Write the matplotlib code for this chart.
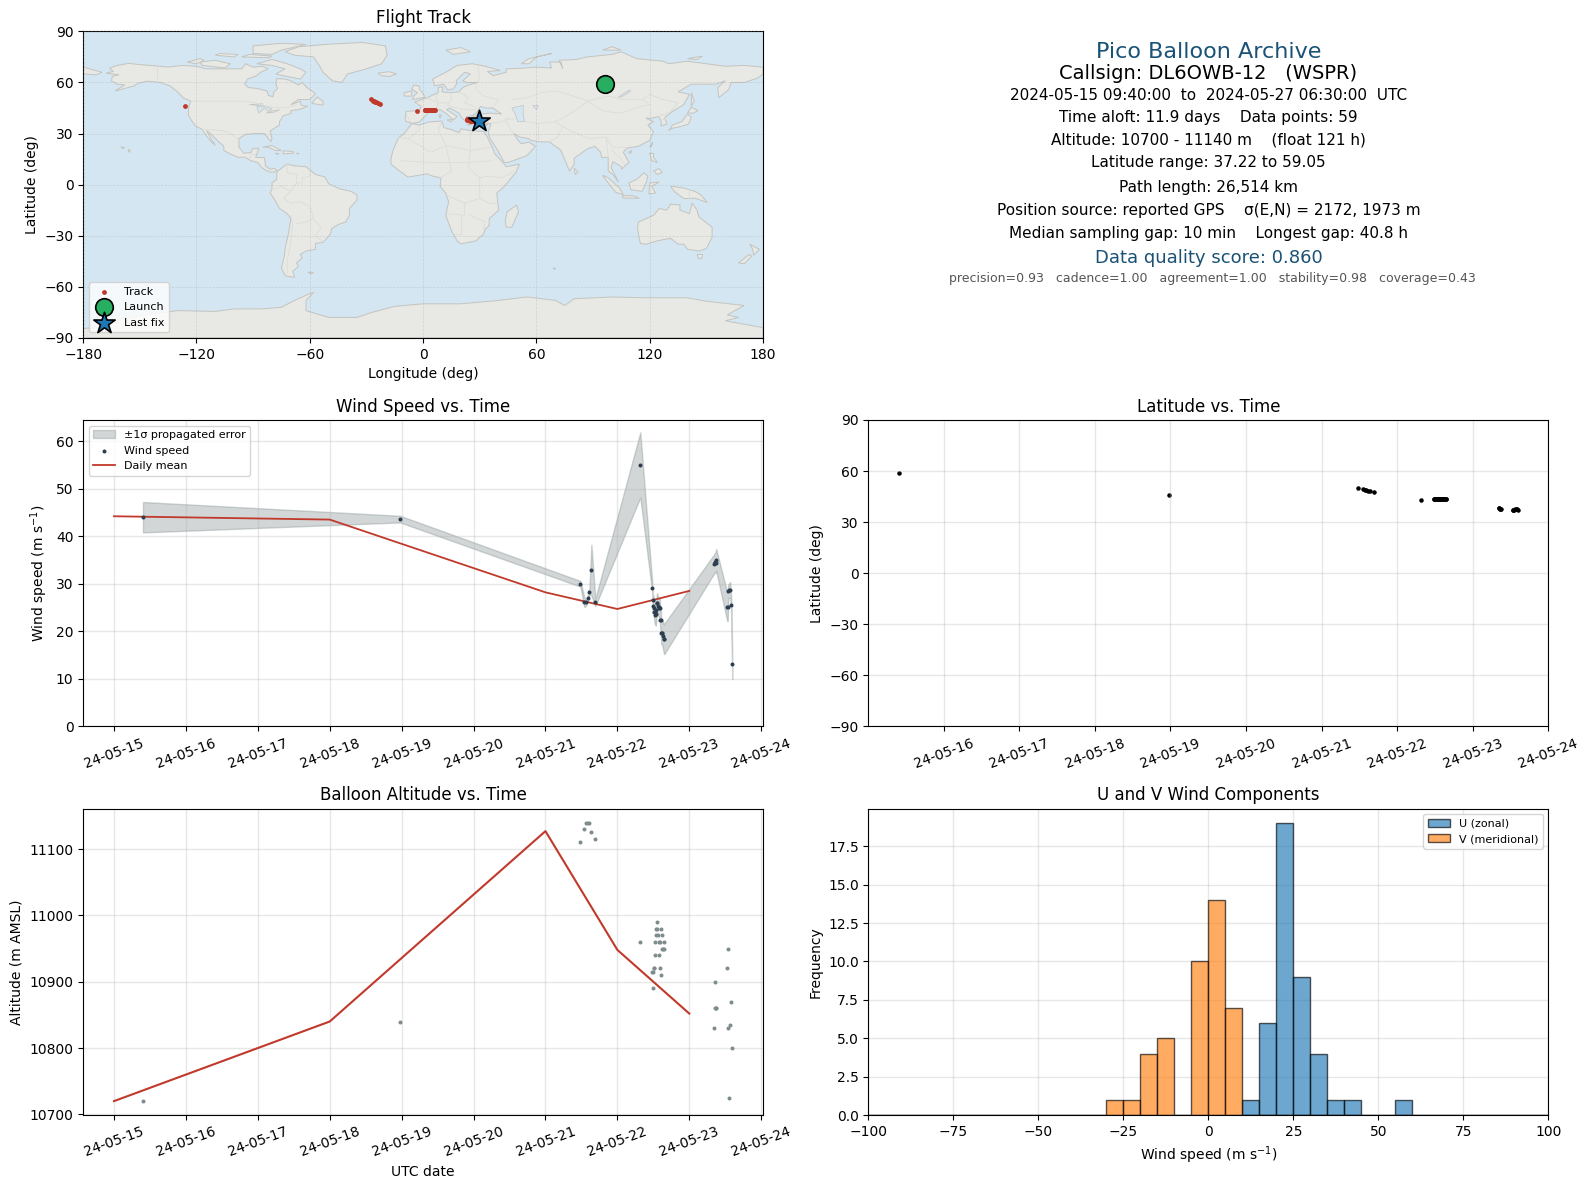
from datetime import datetime
import numpy as np
import matplotlib
matplotlib.use("Agg")
import matplotlib.pyplot as plt
import matplotlib.dates as mdates

# flight samples, time is day of May 2024
day = [15.403, 18.979, 21.486, 21.542, 21.569, 21.590, 21.611, 21.639, 21.694, 22.319,
       22.486, 22.493, 22.500, 22.507, 22.514, 22.521, 22.528, 22.535, 22.542, 22.549,
       22.556, 22.563, 22.576, 22.583, 22.590, 22.597, 22.604, 22.611, 22.618, 22.625,
       22.639, 22.646, 22.653,
       23.347, 23.353, 23.360, 23.367, 23.375, 23.528, 23.535, 23.542, 23.556, 23.569, 23.583, 23.597]
wind = [44.0, 43.6, 30.0, 26.1, 26.1, 27.0, 28.3, 32.9, 26.1, 55.0,
        29.1, 25.3, 26.6, 24.9, 24.1, 24.1, 23.5, 23.7, 24.4, 25.9,
        26.0, 25.3, 25.1, 24.9, 25.0, 22.4, 22.3, 19.75, 19.7, 19.7,
        19.0, 18.4, 18.4,
        34.2, 34.4, 34.5, 34.4, 35.0, 25.15, 25.2, 28.4, 28.6, 28.65, 25.6, 13.15]
wind_err = [3.2, 0.7, 0.6, 1.0, 0.6, 0.6, 0.6, 5.3, 0.8, 6.85,
            1.0, 1.5, 1.0, 1.5, 2.0, 2.5, 2.2, 2.5, 2.0, 2.0,
            2.0, 2.0, 2.0, 2.0, 2.0, 2.0, 2.2, 2.5, 2.5, 2.6,
            3.0, 3.0, 3.2,
            2.0, 2.0, 2.0, 2.2, 2.3, 3.0, 3.0, 1.5, 1.5, 1.7, 1.5, 3.2]
altitude = [10720, 10840, 11110, 11130, 11140, 11140, 11140, 11125, 11115, 10960,
            10915, 10915, 10890, 10920, 10920, 10940, 10960, 10970, 10980, 10980,
            10990, 10970, 10960, 10940, 10960, 10920, 10910, 10980, 10950, 10970,
            10950, 10960, 10950,
            10830, 10860, 10900, 10860, 10860, 10920, 10950, 10830, 10725, 10835, 10870, 10800]
lat = [58.9, 46.0, 50.0, 49.3, 49.0, 48.7, 48.5, 48.2, 47.5, 43.0,
       43.6, 43.6, 43.6, 43.6, 43.6, 43.6, 43.6, 43.6, 43.6, 43.6,
       43.6, 43.6, 43.6, 43.6, 43.6, 43.6, 43.6, 43.6, 43.6, 43.6,
       43.6, 43.6, 43.6,
       38.4, 38.2, 38.0, 37.8, 37.6, 37.2, 37.2, 37.3, 37.5, 37.6, 37.8, 37.2]
lon = [96.3, -126.2, -27.5, -26.7, -26.2, -25.6, -25.0, -24.0, -23.0, -3.2,
       0.8, 1.1, 1.4, 1.7, 2.0, 2.3, 2.6, 2.9, 3.2, 3.5,
       3.8, 4.1, 4.4, 4.7, 5.0, 5.2, 5.4, 5.6, 5.7, 5.8,
       5.9, 6.0, 6.1,
       23.0, 23.4, 23.8, 24.2, 24.6, 25.5, 26.0, 26.5, 27.0, 27.5, 28.0, 29.8]

# daily means
mean_day = [15, 18, 21, 22, 23]
mean_wind = [44.2, 43.5, 28.2, 24.7, 28.5]
mean_alt = [10720, 10840, 11127, 10948, 10852]

# histogram counts, 5 m/s bins
u_bins = [10, 15, 20, 25, 30, 35, 40, 55]
u_counts = [1, 6, 19, 9, 4, 1, 1, 1]
v_bins = [-30, -25, -20, -15, -5, 0, 5]
v_counts = [1, 1, 4, 5, 10, 14, 7]

summary = [
    ("Pico Balloon Archive", 16, "#1a5276"),
    ("Callsign: DL6OWB-12   (WSPR)", 14, "black"),
    ("2024-05-15 09:40:00  to  2024-05-27 06:30:00  UTC", 11, "black"),
    ("Time aloft: 11.9 days    Data points: 59", 11, "black"),
    ("Altitude: 10700 - 11140 m    (float 121 h)", 11, "black"),
    ("Latitude range: 37.22 to 59.05", 11, "black"),
    ("Path length: 26,514 km", 11, "black"),
    ("Position source: reported GPS    σ(E,N) = 2172, 1973 m", 11, "black"),
    ("Median sampling gap: 10 min    Longest gap: 40.8 h", 11, "black"),
    ("Data quality score: 0.860", 13, "#1a5276"),
    ("precision=0.93   cadence=1.00   agreement=1.00   stability=0.98   coverage=0.43", 9, "#555555"),
]
summary_y = [0.932, 0.862, 0.792, 0.720, 0.644, 0.571, 0.492, 0.416, 0.340, 0.261, 0.195]
summary_x = [0.5, 0.5, 0.5, 0.5, 0.5, 0.5, 0.5, 0.5, 0.5, 0.5, 0.506]

# rough land outlines, lon/lat
land = [
    # north america
    [(-168,65.5),(-164,66.5),(-166,68.5),(-162,70),(-156,71.2),(-150,70.5),(-141,69.7),(-135,69),(-128,70),(-120,69.5),
     (-115,68),(-108,68),(-100,68),(-96,68),(-94,71),(-90,69),(-85,69.5),(-82,68),(-86,66),(-88,64),(-93,62),(-94.5,59),
     (-92.5,57),(-88,56.5),(-82.5,55),(-82,52.5),(-79.5,51.5),(-79,54.5),(-77,56.5),(-78,59),(-77.5,62.3),(-73,62),(-70,61),
     (-66,58.5),(-64,60),(-61.5,57),(-57,53.5),(-60,50),(-66,50),(-70,47),(-65,49),(-64.5,46.5),(-61,46),(-66,44),(-70,43.5),
     (-70,41.7),(-74,40.5),(-76,37),(-76,35),(-81,31.5),(-80,27),(-80.5,25.2),(-82.5,28),(-84,30),(-89,30),(-94,29.5),
     (-97.5,27),(-97.5,22),(-95,18.5),(-91,18.8),(-90.5,21),(-87,21.4),(-88,18),(-88.7,16),(-84,15.8),(-83.5,11),(-81,9),
     (-79,9.5),(-77.3,8.5),(-78.5,7.5),(-80.5,7.3),(-83,8.3),(-85.5,10),(-87.5,13),(-91,14),(-94.5,16.2),(-98,16),(-102,18),
     (-105.5,20),(-105.5,22.5),(-109,26),(-112.5,30),(-114.7,31.7),(-112,26.5),(-110,23),(-112,25),(-115,29),(-117,32.5),
     (-120.5,34.5),(-122.5,37.5),(-124.3,41),(-124,46),(-123,49),(-127,51),(-130,54.5),(-134,58),(-139,60),(-146,60.8),
     (-151,59.5),(-153,58),(-158,56.5),(-163,55),(-158,58.5),(-162,59),(-165,61),(-164.5,63.5),(-161,64.5)],
    [(-73,78),(-66,81),(-50,82.5),(-32,83.5),(-20,81.5),(-19,76),(-22,71),(-30,68),(-40,65),(-43,60),(-48,61),(-53,66),(-55,70),(-58,75),(-68,76)],
    [(-62,66),(-65,62),(-72,63.5),(-78,65),(-73,68),(-80,70),(-88,71),(-80,73.5),(-72,71),(-65,68)],
    [(-117,70),(-105,68.5),(-102,71),(-110,73),(-118,72)],
    [(-90,77),(-80,76.5),(-75,79),(-62,82.3),(-75,83),(-90,81.5)],
    [(-125,72),(-118,74),(-116,73),(-120,71)],
    [(-96,75),(-82,74.5),(-80,75.5),(-92,76.5)],
    [(-110,76),(-100,75),(-98,76.5),(-108,77)],
    [(-59,47.7),(-53,46.7),(-53,49),(-56,51.5)],
    [(-85,22),(-80,23),(-75,20),(-78,20),(-82,22)],
    [(-74,19.8),(-69,19.5),(-68.5,18.5),(-74,18)],
    [(-78.3,18.4),(-76.3,18.2),(-77,17.8)],
    [(-67,18.4),(-65.7,18.3),(-66,18)],
    [(-156,20.8),(-155,19.8),(-155.6,19),(-156,19.7)],
    [(-160,22.2),(-158,21.6),(-159,21.2)],
    # south america
    [(-77,8),(-72,12),(-68,11),(-62,10.5),(-57,6),(-52,4.5),(-50,0.5),(-44,-2.5),(-38,-4),(-35,-6),(-35,-9),(-39,-14),
     (-39,-18),(-41,-22),(-45,-23.5),(-48.5,-26),(-49,-29),(-53,-34),(-57,-34.5),(-57,-38),(-62,-39),(-65,-41),(-64,-43),
     (-67,-46),(-66,-48),(-69,-51),(-68,-54.5),(-73,-53.5),(-75,-49),(-73.5,-42),(-73,-37),(-71.5,-30),(-70,-20),(-72,-17),
     (-76,-14),(-79,-8),(-81,-5),(-80,-2.5),(-80,1),(-77.5,3),(-77.5,6.5)],
    [(-61,-51.5),(-58,-51.5),(-59,-52.3)],
    # africa
    [(-6,35.8),(-2,35),(3,36.8),(10,37.3),(11,33.5),(15,32.3),(19,30.5),(20,32.8),(25,31.7),(32,31.2),(34,28),(37,21),(38,18),
     (43,12),(44,10.5),(51,12),(49,7),(43,-1),(39,-5),(40,-15),(35,-20),(35,-24),(32.7,-26.5),(32,-29),(28,-33),(20,-34.8),
     (18,-33),(15,-27),(12,-18),(13.5,-10),(12,-5),(9,-1),(9.5,4),(5,5),(2,6.3),(-4,5.2),(-8,4.4),(-13,8.5),(-17,12),(-17,15),
     (-16,20),(-13,27.5),(-10,30)],
    [(49.5,-12),(50.5,-16),(47,-25),(44,-25),(43.5,-21),(44.5,-16)],
    # eurasia
    [(-9,37),(-9.5,39),(-9,43),(-2,43.5),(-1,46),(-4.5,48.5),(2,51),(4,52),(8,54),(8,57),(10.5,57.5),(10,54.5),(14,54),(19,54.5),
     (21,57),(24,58.5),(29,60),(23,60),(21,61),(25,65),(22,66),(17.5,61),(18,59.5),(16,56.2),(13,55.5),(11,59),(6,58),(5,62),
     (12,66),(18,70),(26,71),(33,69.5),(41,67),(34,66.5),(37,64),(44,66),(44,68),(54,68.5),(60,69),(68,68.5),(67,72),(73,72),
     (74,68),(72,73),(81,73.5),(87,75),(100,76.5),(105,78),(113,74),(127,72.5),(130,71),(140,72.5),(150,71),(160,69.5),(170,70),
     (180,69),(180,65),(177,62.5),(170,60),(163,60),(162,56),(156.5,51),(156,57),(160,61),(155,59),(142,59),(135,54.5),(141,53),
     (138,47),(132,43),(128,39.5),(129,35.5),(126,34.5),(126,37.5),(124.5,40),(121,39),(118,39),(122,37),(119,35),(122,31),
     (120,26),(114,22.5),(108,21.5),(106,19),(109,13),(105,9),(105,10.5),(100.5,13.5),(99.5,10),(103.5,1.5),(100.5,6),(98,8),
     (98,16),(94.5,16),(94,19),(91,22.5),(87,21),(80,15.5),(80,12),(77.5,8),(73,20),(72,21),(67,25),(61,25.2),(57,26),(56,27),
     (51,28),(48,30),(50,26.5),(52,24),(56,25),(59.5,22.5),(55,17),(45,13),(43,13),(39,21),(35,28),(34.5,31),(36,36),(32,36),
     (27,37),(26,39.5),(29,41),(35,42),(41.5,41.5),(37,45),(33,45),(30.5,46),(28,42),(26,40.5),(23,40),(23,36.5),(20,40),(19,42),
     (14,45),(12.5,44),(18,40),(16,38),(12,42),(9,44),(3.5,43.2),(0,39),(-2,36.8),(-5.5,36)],
    [(-180,69),(-175,67.5),(-170,66),(-173,64.5),(-180,65)],
    [(-5.5,50),(1,51.3),(0,53.5),(-2,56),(-2,58),(-5,58.5),(-6,56),(-3,54),(-5,52)],
    [(-10,52),(-6,52),(-6,55),(-10,54)],
    [(-24,65.5),(-18,66.3),(-14,65),(-18,63.5),(-22,64)],
    [(12,79),(20,80.5),(25,78),(16,76.5)],
    [(52,71),(56,74),(68,77),(60,75),(56,71)],
    [(95,79),(105,79),(100,81)],
    [(140,74),(148,75.5),(145,73.5)],
    [(130,31.5),(132,35),(137,37),(140,41.5),(142,39.5),(140.5,35.5),(136,34),(131.5,33)],
    [(140,42),(142,45.5),(145.5,43.5),(143,42)],
    [(142,46),(142,54),(143.5,49)],
    [(120,22),(121.5,25),(121,22.5)],
    [(108.7,19),(110.5,20),(110,18.3)],
    [(120,18.5),(122,18.3),(122,16),(124,13),(121,14)],
    [(122,8),(125,9.5),(126.5,7),(124,6)],
    [(117,7),(119,5),(118,1),(116,-4),(110,-3),(109,1),(113,3)],
    [(95,5.5),(98,4),(104,-2),(106,-6),(102,-4.5),(98,1)],
    [(105.5,-6.5),(111,-6.5),(114.5,-8),(106,-7.8)],
    [(119.5,-5.5),(120,1),(125,1.5),(121,-1),(123,-5)],
    [(131,-1),(138,-2),(144,-4),(147,-6),(150.5,-10.5),(144,-8),(138,-8.2),(133,-4)],
    [(80,9.7),(82,7.5),(80.5,6)],
    # australia, new zealand
    [(114,-22),(113.5,-26),(115,-34.5),(118,-35),(124,-33),(131,-31.5),(135,-35),(138,-35),(140,-38),(146,-39),(150,-37.5),
     (153,-31),(153,-25),(146,-19),(145,-15),(142.5,-10.8),(141,-17),(136,-15),(136,-12),(131,-11.5),(129,-15),(125,-14),(122,-18)],
    [(145,-41),(148,-41),(147.5,-43.5),(146,-43.5)],
    [(173,-35),(178,-38),(175,-41.5),(174.5,-38)],
    [(172.5,-41),(174,-42),(170,-46.5),(167,-46)],
    [(68.8,-49),(70.3,-49.2),(69.5,-49.8)],
    [(9,39),(9.7,41),(8.3,40.8)],
    [(12.5,38),(15.5,38.2),(15,36.8)],
    [(23.5,35.5),(26,35.2),(24,35)],
    [(32.5,35),(34.5,35.6),(33.5,34.7)],
    # antarctica
    [(-180,-84.5),(-172,-84),(-160,-78.5),(-150,-77),(-130,-74),(-110,-74.5),(-100,-73),(-85,-73),(-75,-72),(-68,-68),(-60,-64),
     (-58,-63.3),(-62,-68),(-62,-74),(-50,-78),(-35,-78),(-27,-75),(-15,-71.5),(0,-70),(20,-70),(40,-68),(55,-66),(70,-68),(75,-71),
     (80,-67),(100,-66),(120,-66.5),(140,-66.5),(150,-68.5),(170,-71),(161,-76.5),(167,-78),(160,-80),(180,-84),(180,-90),(-180,-90)],
]
lakes = [
    [(47,45),(53,46.5),(53,40),(54,37),(50,37),(49,41)],
    [(58,46.5),(61,46.5),(60,44)],
    [(-92,47),(-85,47.5),(-84.5,46),(-88,46.5)],
    [(-88,46),(-84,46),(-80,44.5),(-82,43),(-84,45),(-87,42)],
    [(-83,42),(-79,43.5),(-76,44),(-79,42.5)],
    [(103.5,51.5),(109,55.5),(110,55),(105,51.5)],
]
borders = [
    [(-123,49),(-95,49),(-88,48),(-83,46),(-75,45),(-71,45.5),(-67,47)],
    [(-141,69.7),(-141,60)],
    [(-117,32.5),(-106,31.7),(-101,29.5),(-97.5,26)],
    [(-92,14.5),(-91,17.5),(-89,17.8)],
    [(-72,12),(-72,7),(-67,6),(-67,1),(-70,-4),(-74,-8),(-70,-11),(-65,-10),(-60,-13),(-58,-20),(-54,-25),(-57,-30),(-53,-33.5)],
    [(-60,8),(-60,5),(-64,4),(-64,1),(-67,1)],
    [(-70,-18),(-69,-23),(-70,-33),(-72,-45),(-72,-52)],
    [(-58,-20),(-62,-22),(-67,-23)],
    [(-80,-3),(-75,-1),(-70,-4)],
    [(-13,27.5),(-8,27),(-2,32),(-2,35)],
    [(-8,27),(4,19),(12,23),(25,20),(36,22)],
    [(10,37),(8,32),(12,23),(14,13),(15,8),(9,4)],
    [(25,31.5),(25,20),(24,10),(30,4),(35,5),(42,4),(48,8)],
    [(36,14),(24,13),(14,13),(4,13),(-12,14)],
    [(30,4),(30,-8),(22,-11),(12,-6)],
    [(22,-11),(22,-18),(12,-17)],
    [(20,-18),(20,-29),(17,-29)],
    [(30,-8),(35,-11),(40,-11)],
    [(25,-18),(33,-22),(32,-26)],
    [(-2,43.5),(3,42.5)],[(-9,42),(-7,37)],
    [(2,51),(6,49),(8,48),(7,44)],
    [(8,54),(7,51),(8,48),(14,48),(15,51),(14,54)],
    [(14,48),(13,46.5),(18,45),(22,44),(28,44)],
    [(19,54.5),(24,51),(22,48),(28,45.5)],
    [(28,60),(28,56),(32,52),(40,50),(38,47)],
    [(29,69),(30,62),(28,60)],
    [(36,36),(42,37),(45,39),(48,38)],
    [(35,29),(46,29),(48,30)],
    [(44,37),(46,33),(48,30)],
    [(45,39),(44,37)],
    [(61,36),(54,37)],[(61,36),(61,25)],
    [(61,36),(70,37),(74,34),(71,28),(67,25)],
    [(74,34),(79,31),(88,27),(97,28),(98,16)],
    [(47,50),(55,51),(62,54),(70,55),(77,53),(85,50),(87,49)],
    [(87,49),(80,43),(74,39),(70,37)],
    [(87,49),(98,52),(106,50),(116,50),(120,53),(127,50),(135,48),(131,43)],
    [(87,49),(96,43),(105,42),(112,45),(120,47),(116,50)],
    [(97,28),(100,22),(106,22),(108,21.5)],
    [(124.5,40),(130,42.5)],[(126,38),(128.5,38.5)],
    [(100,20),(105,15),(107,11)],
    [(141,-2.5),(141,-9)],
]


def format_time_axis(ax):
    ax.xaxis.set_major_locator(mdates.DayLocator())
    ax.xaxis.set_major_formatter(mdates.DateFormatter("%y-%m-%d"))
    ax.tick_params(axis="x", labelrotation=20)
    ax.grid(True, color="#b0b0b0", linewidth=1, alpha=0.3)


base = mdates.date2num(datetime(2024, 5, 1)) - 1
t = base + np.array(day)
t_mean = base + np.array(mean_day)
wind = np.array(wind)
wind_err = np.array(wind_err)

fig, axes = plt.subplots(3, 2, figsize=(15.89, 11.89), dpi=100)
fig.subplots_adjust(left=0.0523, right=0.9745, top=0.9736, bottom=0.0622, hspace=0.268, wspace=0.155)

# map
ax = axes[0, 0]
ax.set_facecolor("#d4e6f1")
for shape in land:
    ax.fill(*zip(*shape), facecolor="#e8e8e4", edgecolor="#c4c4c0", linewidth=0.7, zorder=1)
for shape in lakes:
    ax.fill(*zip(*shape), facecolor="#d4e6f1", edgecolor="#c4c4c0", linewidth=0.5, zorder=1.1)
for line in borders:
    ax.plot(*zip(*line), color="#dcdcd8", linewidth=0.6, zorder=1.2)
ax.scatter(lon, lat, s=6, color="#c0392b", zorder=3, label="Track")
ax.scatter(lon[0], lat[0], s=160, color="#27ae60", edgecolor="black", linewidth=1.2, zorder=4, label="Launch")
ax.scatter(lon[-1], lat[-1], s=260, marker="*", color="#1f77b4", edgecolor="black", linewidth=1.2, zorder=5, label="Last fix")
ax.set_xlim(-180, 180)
ax.set_ylim(-90, 90)
ax.set_xticks(np.arange(-180, 181, 60))
ax.set_yticks(np.arange(-90, 91, 30))
ax.grid(True, color="#999999", linewidth=0.5, linestyle="--", alpha=0.3, zorder=2)
ax.set_axisbelow(False)
ax.set_xlabel("Longitude (deg)")
ax.set_ylabel("Latitude (deg)")
ax.set_title("Flight Track", fontsize=12)
ax.legend(loc="lower left", fontsize=8)

# summary block
ax = axes[0, 1]
ax.axis("off")
for (text, size, color), x, y in zip(summary, summary_x, summary_y):
    ax.text(x, y, text, transform=ax.transAxes, ha="center", va="center", fontsize=size, color=color)

# wind
ax = axes[1, 0]
ax.fill_between(t, wind - wind_err, wind + wind_err, color="#7f8c8d", alpha=0.35, label="±1σ propagated error")
ax.scatter(t, wind, s=3.5, color="#2c3e50", zorder=3, label="Wind speed")
ax.plot(t_mean, mean_wind, color="#c0392b", linewidth=1.3, label="Daily mean")
ax.set_ylim(bottom=0)
format_time_axis(ax)
ax.set_ylabel("Wind speed (m s$^{-1}$)")
ax.set_title("Wind Speed vs. Time", fontsize=12)
ax.legend(loc="upper left", fontsize=8)

# latitude
ax = axes[1, 1]
ax.scatter(t, lat, s=5, color="black")
ax.set_xlim(base + 15.003, base + 24.003)
ax.set_ylim(-90, 90)
ax.set_yticks(np.arange(-90, 91, 30))
format_time_axis(ax)
ax.set_ylabel("Latitude (deg)")
ax.set_title("Latitude vs. Time", fontsize=12)

# altitude
ax = axes[2, 0]
ax.scatter(t, altitude, s=3.5, color="#7f8c8d", zorder=3)
ax.plot(t_mean, mean_alt, color="#c0392b", linewidth=1.5)
format_time_axis(ax)
ax.set_yticks(np.arange(10700, 11101, 100))
ax.set_xlabel("UTC date")
ax.set_ylabel("Altitude (m AMSL)")
ax.set_title("Balloon Altitude vs. Time", fontsize=12)

# wind components
ax = axes[2, 1]
edges = np.arange(-100, 101, 5)
ax.hist(np.array(u_bins) + 2.5, bins=edges, weights=u_counts, color="#1f77b4", alpha=0.65, edgecolor="black", label="U (zonal)")
ax.hist(np.array(v_bins) + 2.5, bins=edges, weights=v_counts, color="#ff7f0e", alpha=0.65, edgecolor="black", label="V (meridional)")
ax.set_xlim(-100, 100)
ax.grid(True, color="#b0b0b0", linewidth=1, alpha=0.3)
ax.set_axisbelow(True)
ax.set_xlabel("Wind speed (m s$^{-1}$)")
ax.set_ylabel("Frequency")
ax.set_title("U and V Wind Components", fontsize=12)
ax.legend(loc="upper right", fontsize=8)

fig.savefig("out.png", dpi=100)
